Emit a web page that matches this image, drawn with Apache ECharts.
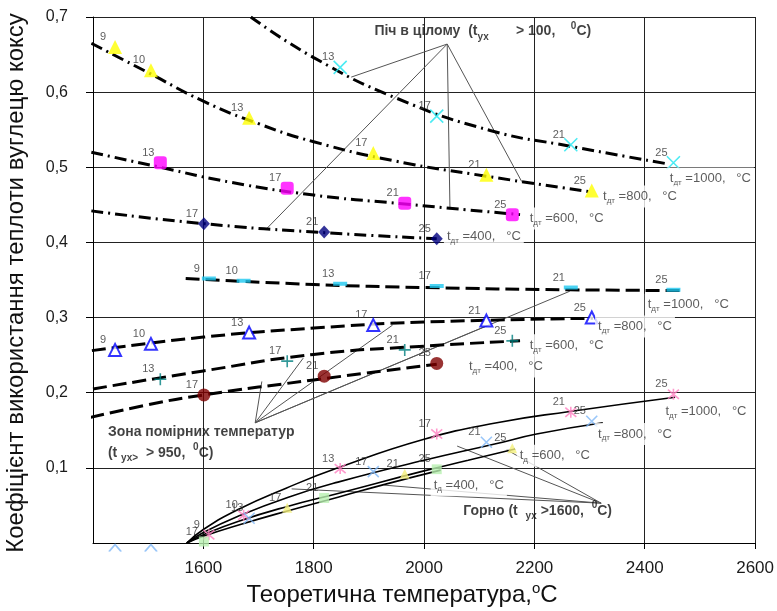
<!DOCTYPE html>
<html><head><meta charset="utf-8">
<script src="https://cdn.jsdelivr.net/npm/echarts@6/dist/echarts.min.js"></script>
<style>html,body{margin:0;padding:0;background:#fff}#c{width:777px;height:611px}</style>
</head><body><div id="c"></div>
<script>
// ---- marker parameters and theoretical temperatures per t_дт ----
const params1000 = [9, 10, 13, 17, 21, 25];
const temp1000   = [1610, 1673, 1848, 2023, 2266, 2452];
const params800  = [9, 10, 13, 17, 21, 25];
const temp800    = [1440, 1505, 1683, 1908, 2113, 2304];
const params600  = [13, 17, 21, 25];
const temp600    = [1522, 1752, 1965, 2160];
const params400  = [17, 21, 25];
const temp400    = [1601, 1819, 2023];

// ---- Піч в цілому (markers) ----
const furnace1000 = [null, null, 0.633, 0.568, 0.530, 0.506];
const furnace800  = [0.660, 0.629, 0.566, 0.519, 0.490, 0.469];
const furnace600  = [0.506, 0.472, 0.452, 0.437];
const furnace400  = [0.425, 0.414, 0.405];
// ---- Зона помірних температур (markers) ----
const zone1000 = [0.352, 0.349, 0.345, 0.342, 0.340, 0.337];
const zone800  = [0.257, 0.265, 0.280, 0.290, 0.296, 0.300];
const zone600  = [0.218, 0.242, 0.257, 0.269];
const zone400  = [0.197, 0.222, 0.239];
// ---- Горно (markers) ----
const hearth1000 = [0.011, 0.037, 0.099, 0.145, 0.174, 0.198];
const hearth800  = [0, 0, 0.033, 0.095, 0.134, 0.162];
const hearth600  = [null, 0.047, 0.092, 0.126];
const hearth400  = [0.002, 0.060, 0.098];

// ---- trend curves ----
const furnaceTrend1000 = [[1686,0.700],[1800,0.646],[1950,0.592],[2120,0.549],[2265,0.528],[2438,0.505]];
const furnaceTrend800  = [[1397,0.665],[1500,0.626],[1600,0.588],[1700,0.558],[1800,0.534],[1950,0.508],[2114,0.488],[2306,0.467]];
const furnaceTrend600  = [[1397,0.520],[1522,0.500],[1650,0.480],[1800,0.463],[1952,0.452],[2174,0.437]];
const furnaceTrend400  = [[1397,0.442],[1600,0.425],[1820,0.413],[2023,0.405]];

const zoneTrend1000 = [[1568,0.352],[1800,0.344],[2000,0.340],[2264,0.337],[2467,0.336]];
const zoneTrend800  = [[1398,0.256],[1600,0.274],[1800,0.286],[2000,0.294],[2306,0.299]];
const zoneTrend600  = [[1400,0.205],[1600,0.229],[1800,0.251],[2000,0.262],[2174,0.269]];
const zoneTrend400  = [[1360,0.161],[1500,0.184],[1600,0.197],[1800,0.217],[2023,0.238]];

const hearthTrend1000 = [[1570,0],[1600,0.018],[1664,0.045],[1750,0.073],[1844,0.100],[2000,0.138],[2132,0.160],[2264,0.175],[2455,0.194]];
const hearthTrend800  = [[1570,0],[1600,0.014],[1664,0.036],[1754,0.061],[1844,0.081],[2000,0.110],[2130,0.132],[2204,0.145],[2324,0.160]];
const hearthTrend600  = [[1570,0],[1600,0.011],[1664,0.029],[1754,0.049],[1844,0.066],[2000,0.096],[2080,0.110],[2165,0.125]];
const hearthTrend400  = [[1570,0],[1600,0.009],[1664,0.024],[1754,0.043],[1844,0.061],[1934,0.079],[2030,0.097]];

// ---- leader lines (apex and ends) ----
const furnaceApex = [2042, 0.664];
const furnaceEnds = [[1868,0.620],[1713,0.417],[2047,0.444],[2177,0.481]];
const zoneApex = [1694, 0.160];
const zoneEnds = [[1706,0.215],[1781,0.246],[1943,0.290],[2120,0.291],[2264,0.335]];
const hearthApex = [2321, 0.053];
const hearthEnds = [[2060,0.129],[2150,0.124],[1928,0.077],[1760,0.072]];

// ---- axis ticks ----
const xMin = 1400, xMax = 2600, xStep = 200;
const yMin = 0, yMax = 0.7, yStep = 0.1;

const FONT = '"Liberation Sans", Arial, sans-serif';
const SYM_X = 'path://M0,0L10,10M10,0L0,10';
const SYM_STAR = 'path://M0,0L10,10M10,0L0,10M5,-1L5,11';
const SYM_PLUS = 'path://M5,0L5,10M0,5L10,5';
const SYM_CHEV = 'path://M0,10L5,0L10,10';

function pts(temps, vals, params) {
  const out = [];
  temps.forEach((t, i) => {
    if (vals[i] == null) return;
    if (vals[i] <= 0 && params[i] < 13) {
      out.push({value: [t, vals[i], params[i]], symbol: SYM_CHEV, symbolSize: [12, 7], symbolOffset: [0, 5], label: {show: false}});
    } else out.push([t, vals[i], params[i]]);
  });
  return out;
}
function marker(data, symbol, size, itemStyle) {
  return {
    type: 'scatter', data, symbol, symbolSize: size, itemStyle, z: 6, silent: true, animation: false,
    label: {show: true, formatter: p => p.value[2], position: 'inside', offset: [-12, -10],
            fontSize: 11, fontFamily: FONT, color: '#333'}
  };
}
function trend(data, type, width, extra) {
  return Object.assign({
    type: 'line', data, smooth: 0.5, showSymbol: false, symbol: 'none',
    lineStyle: {color: '#000', width, type}, z: 4, silent: true, animation: false
  }, extra || {});
}
function leaders(apex, ends) {
  return ends.map(e => ({type: 'line', data: [apex, e], symbol: 'none', showSymbol: false, silent: true,
    animation: false, z: 3, lineStyle: {color: '#555', width: 1}}));
}
const DASHDOT = [12, 5, 2, 5];
const DASH = [14, 6];
const stroke = c => ({color: 'rgba(0,0,0,0)', borderColor: c, borderWidth: 1.6});

const noteRich = {
  t: {fontSize: 13, fontFamily: FONT, color: '#333', lineHeight: 16},
  s: {fontSize: 8, fontFamily: FONT, color: '#333', verticalAlign: 'bottom'},
  b: {fontSize: 14, fontWeight: 'bold', fontFamily: FONT, color: '#111', lineHeight: 21},
  bs: {fontSize: 10, fontWeight: 'bold', fontFamily: FONT, color: '#111', verticalAlign: 'bottom'},
  bp: {fontSize: 10, fontWeight: 'bold', fontFamily: FONT, color: '#111', verticalAlign: 'top'}
};
function tLabel(sub, val) { return '{t|t}{s|' + sub + '}{t| =' + val + ',   °C}'; }
const notes = [
  {value: [1910, 0.681], text: '{b|Піч в цілому  (t}{bs|ух}{b|       > 100,    }{bp|0}{b|C)}', bg: false},
  {value: [1427, 0.134], text: '{b|Зона помірних температур}\n{b|(t }{bs|ух>}{b|  > 950,  }{bp|0}{b|C)}', bg: false},
  {value: [2071, 0.043], text: '{b|Горно (t  }{bs|ух}{b| >1600,  }{bp|0}{b|C)}', bg: false},
  {value: [2440, 0.485], text: tLabel('дт', '1000'), bg: true},
  {value: [2319, 0.461], text: tLabel('дт', '800'), bg: true},
  {value: [2186, 0.432], text: tLabel('дт', '600'), bg: true},
  {value: [2036, 0.408], text: tLabel('дт', '400'), bg: true},
  {value: [2400, 0.317], text: tLabel('дт', '1000'), bg: true},
  {value: [2310, 0.288], text: tLabel('дт', '800'), bg: true},
  {value: [2186, 0.263], text: tLabel('дт', '600'), bg: true},
  {value: [2076, 0.235], text: tLabel('дт', '400'), bg: true},
  {value: [2432, 0.175], text: tLabel('дт', '1000'), bg: true},
  {value: [2310, 0.145], text: tLabel('дт', '800'), bg: true},
  {value: [2168, 0.116], text: tLabel('д', '600'), bg: true},
  {value: [2012, 0.077], text: tLabel('д', '400'), bg: true}
];

const series = [
  trend(furnaceTrend1000, DASHDOT, 3), trend(furnaceTrend800, DASHDOT, 3),
  trend(furnaceTrend600, DASHDOT, 3), trend(furnaceTrend400, DASHDOT, 3),
  trend(zoneTrend1000, DASH, 3), trend(zoneTrend800, DASH, 3),
  trend(zoneTrend600, DASH, 3), trend(zoneTrend400, DASH, 3, {clip: false}),
  trend(hearthTrend1000, 'solid', 1.6), trend(hearthTrend800, 'solid', 1.6),
  trend(hearthTrend600, 'solid', 1.6), trend(hearthTrend400, 'solid', 1.6),
  ...leaders(furnaceApex, furnaceEnds), ...leaders(zoneApex, zoneEnds), ...leaders(hearthApex, hearthEnds),
  marker(pts(temp1000, furnace1000, params1000), SYM_X, 13, stroke('#1ee6f0')),
  marker(pts(temp800, furnace800, params800), 'triangle', 14, {color: '#ffff00'}),
  marker(pts(temp600, furnace600, params600), 'roundRect', 13, {color: '#ff00ff'}),
  marker(pts(temp400, furnace400, params400), 'diamond', [12, 13], {color: '#000080'}),
  marker(pts(temp1000, zone1000, params1000), 'rect', [14, 4], {color: '#1ec8f0'}),
  marker(pts(temp800, zone800, params800), 'triangle', 12, {color: '#fff', borderColor: '#0000ff', borderWidth: 2}),
  marker(pts(temp600, zone600, params600), SYM_PLUS, 12, stroke('#008080')),
  marker(pts(temp400, zone400, params400), 'circle', 13, {color: '#800000'}),
  marker(pts(temp1000, hearth1000, params1000), SYM_STAR, 11, stroke('#ff80c0')),
  marker(pts(temp800, hearth800, params800), SYM_X, 11, stroke('#80b8f8')),
  marker(pts(temp600, hearth600, params600), 'triangle', 10, {color: '#f4f07c'}),
  marker(pts(temp400, hearth400, params400), 'rect', 10, {color: '#b8f0b0'}),
  {
    type: 'scatter', symbolSize: 0, silent: true, animation: false, z: 8,
    data: notes.map(n => ({value: n.value, label: {
      show: true, position: 'right', distance: 0, formatter: n.text, rich: noteRich,
      backgroundColor: n.bg ? '#fff' : 'transparent', padding: n.bg ? [3, 3] : 0
    }}))
  }
];

const chart = echarts.init(document.getElementById('c'));
chart.setOption({
  animation: false,
  backgroundColor: '#fff',
  grid: {left: 93, right: 17, top: 17, bottom: 68, containLabel: false},
  xAxis: {
    type: 'value', min: xMin, max: xMax, interval: xStep,
    axisLine: {show: true, onZero: false, lineStyle: {color: '#000', width: 1}},
    axisTick: {show: true, length: 6, lineStyle: {color: '#000'}},
    splitLine: {show: true, lineStyle: {color: '#222', width: 1}},
    axisLabel: {showMinLabel: false, fontSize: 17, color: '#1a1a1a', margin: 17, fontFamily: FONT,
      formatter: v => String(v)}
  },
  yAxis: {
    type: 'value', min: yMin, max: yMax, interval: yStep,
    axisLine: {show: true, onZero: false, lineStyle: {color: '#000', width: 1}},
    axisTick: {show: true, length: 7, lineStyle: {color: '#000'}},
    splitLine: {show: true, lineStyle: {color: '#222', width: 1}},
    axisLabel: {showMinLabel: false, fontSize: 16, color: '#1a1a1a', margin: 25, fontFamily: FONT,
      formatter: v => v.toFixed(1).replace('.', ',')}
  },
  graphic: [
    {type: 'text', x: 16, y: 283, rotation: Math.PI / 2, silent: true,
     style: {text: 'Коефіцієнт використання теплоти вуглецю коксу', fontSize: 24, fontFamily: FONT,
             fill: '#111', align: 'center', verticalAlign: 'middle'}},
    {type: 'text', x: 402, y: 595, silent: true,
     style: {text: '{a|Теоретична температура,}{s|o}{a|C}', fontSize: 24, fontFamily: FONT, fill: '#111',
             align: 'center', verticalAlign: 'middle',
             rich: {a: {fontSize: 24, fontFamily: FONT, fill: '#111', lineHeight: 27},
                    s: {fontSize: 15, fontFamily: FONT, fill: '#111', verticalAlign: 'top'}}}}
  ],
  series
});
</script></body></html>
